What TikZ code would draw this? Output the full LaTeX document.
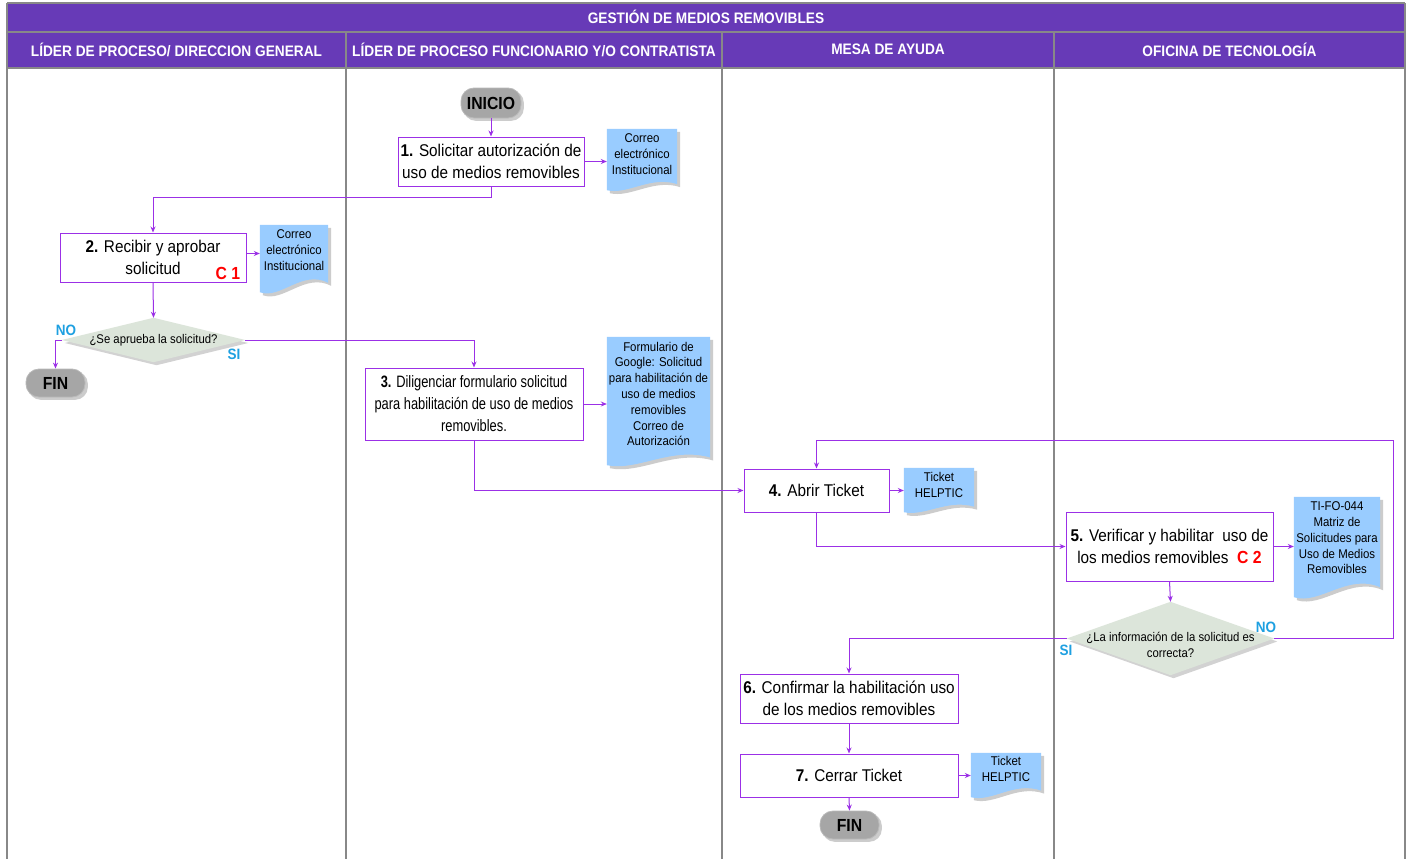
\documentclass[tikz,border=0pt]{standalone}
\usepackage{fontspec}
\setmainfont[FakeStretch=0.9]{Liberation Sans}
\newfontfamily\narrowfont[FakeStretch=0.78]{Liberation Sans}
\usetikzlibrary{calc,arrows.meta}
\definecolor{hdr}{RGB}{103,58,183}
\definecolor{lin}{RGB}{155,48,230}
\definecolor{docb}{RGB}{153,204,255}
\definecolor{dia}{RGB}{220,229,218}
\definecolor{lbl}{RGB}{30,160,225}
\definecolor{pill}{RGB}{166,166,166}
\definecolor{lane}{RGB}{136,136,136}
\pgfdeclarelayer{bg}
\pgfdeclarelayer{docs}
\pgfsetlayers{bg,docs,main}
\newcommand\fs[2]{\fontsize{#1}{#2}\selectfont}
\newcommand\docbg[2]{%
\fill[gray!40] ([shift={(3,3)}]#1.north west) -- ([shift={(3,3)}]#1.north east) -- ([shift={(3,3+0.45*#2)}]#1.south east) .. controls ($(#1.south west)!0.62!(#1.south east)+(3,3-0.35*#2)$) and ($(#1.south west)!0.3!(#1.south east)+(3,3+1.45*#2)$) .. ([shift={(3,3+#2)}]#1.south west) -- cycle;
\fill[docb] (#1.north west) -- (#1.north east) -- ([shift={(0,0.45*#2)}]#1.south east) .. controls ($(#1.south west)!0.62!(#1.south east)+(0,-0.35*#2)$) and ($(#1.south west)!0.3!(#1.south east)+(0,1.45*#2)$) .. ([shift={(0,#2)}]#1.south west) -- cycle;}
\newcommand\diabg[1]{%
\fill[gray!35] ([shift={(3,3)}]#1.north) -- ([shift={(3,3)}]#1.east) -- ([shift={(3,3)}]#1.south) -- ([shift={(3,3)}]#1.west) -- cycle;
\fill[dia] (#1.north) -- (#1.east) -- (#1.south) -- (#1.west) -- cycle;}
\newcommand\pillbg[1]{%
\fill[gray!40, rounded corners=13pt] ([shift={(2.5,2.5)}]#1.north west) rectangle ([shift={(2.5,2.5)}]#1.south east);}
\begin{document}
\begin{tikzpicture}[x=1pt,y=-1pt,
  box/.style={draw=lin, line width=1pt, fill=white, align=center, font=\fs{17}{22}, inner sep=1pt},
  docnode/.style={inner sep=0pt, align=center, font=\fs{12.7}{15.8}},
  dtext/.style={inner sep=0pt, align=center, font=\fs{12.6}{16}},
  pillnode/.style={fill=pill, draw=gray!55, line width=0.8pt, rounded corners=13pt, font=\bfseries\fs{17.5}{20}, inner sep=0pt},
  conn/.style={draw=lin, line width=1pt, -{Stealth[length=6pt,width=5pt]}},
  yn/.style={text=lbl, font=\bfseries\fs{15}{16}, inner sep=0pt},
  hdrtext/.style={text=white, font=\bfseries\fs{15.2}{16}, inner sep=0pt}]
\useasboundingbox (0,0) rectangle (1410,859);
% header and lanes
\begin{pgfonlayer}{bg}
\fill[white] (0,0) rectangle (1410,859);
\fill[hdr] (7,3) rectangle (1405,68);
\draw[lane, line width=1.3pt] (7,3) -- (1405,3);
\draw[lane, line width=1.3pt] (7,32) -- (1405,32);
\draw[lane, line width=1.3pt] (7,68) -- (1405,68);
\draw[lane, line width=1.3pt] (7,3) -- (7,859);
\draw[lane, line width=1.3pt] (1405,3) -- (1405,859);
\draw[lane, line width=1.3pt] (346,32) -- (346,859);
\draw[lane, line width=1.3pt] (722,32) -- (722,859);
\draw[lane, line width=1.3pt] (1054,32) -- (1054,859);
\end{pgfonlayer}
\node[hdrtext] (title) at (706,17) {GESTIÓN DE MEDIOS REMOVIBLES};
\node[hdrtext] (h1) at (176.5,49.5) {LÍDER DE PROCESO/ DIRECCION GENERAL};
\node[hdrtext] (h2) at (534,49.5) {LÍDER DE PROCESO FUNCIONARIO Y/O CONTRATISTA};
\node[hdrtext] (h3) at (888,49.5) {MESA DE AYUDA};
\node[hdrtext] (h4) at (1229.5,49.5) {OFICINA DE TECNOLOGÍA};
% terminals
\node[pillnode, minimum width=60pt, minimum height=30pt] (inicio) at (491,103) {INICIO};
\node[pillnode, minimum width=59pt, minimum height=28pt] (fin1) at (55.5,383) {FIN};
\node[pillnode, minimum width=59pt, minimum height=28pt] (fin2) at (849.5,825) {FIN};
% boxes
\node[box, minimum width=186pt, minimum height=49pt] (box1) at (491,161.5) {\textbf{1.} Solicitar autorización de\\uso de medios removibles};
\node[box, minimum width=186pt, minimum height=49pt] (box2) at (153,257.5) {\textbf{2.} Recibir y aprobar\\solicitud};
\node[text=red, font=\bfseries\fs{17.5}{20}, inner sep=0pt] (c1) at (228,273) {C 1};
\node[box, minimum width=218pt, minimum height=72pt, font=\narrowfont\fs{16.5}{22}] (box3) at (474,404) {\textbf{3.} Diligenciar formulario solicitud\\para habilitación de uso de medios\\removibles.};
\node[box, minimum width=145pt, minimum height=43pt] (box4) at (816.5,490.5) {\textbf{4.} Abrir Ticket};
\node[box, minimum width=207pt, minimum height=69pt] (box5) at (1169.5,546.5) {\textbf{5.} Verificar y habilitar\ \ uso de\\los medios removibles\ \ \textcolor{red}{\textbf{\fs{17.5}{22}C 2}}};
\node[box, minimum width=218pt, minimum height=49pt] (box6) at (849,698.5) {\textbf{6.} Confirmar la habilitación uso\\de los medios removibles};
\node[box, minimum width=218pt, minimum height=43pt] (box7) at (849,775.5) {\textbf{7.} Cerrar Ticket};
% decisions
\node[dtext, minimum width=183pt, minimum height=44pt] (d1) at (153.5,340) {¿Se aprueba la solicitud?};
\node[dtext, minimum width=207pt, minimum height=73pt] (d2) at (1170.5,638.5) {};
\node[dtext] (d2text) at (1170.5,645) {¿La información de la solicitud es\\correcta?};
% documents
\node[docnode, minimum width=70pt, minimum height=50pt] (doc1) at (642,154) {Correo\\electrónico\\Institucional};
\node[docnode, minimum width=68pt, minimum height=50pt] (doc2) at (294,250) {Correo\\electrónico\\Institucional};
\node[docnode, minimum width=103pt, minimum height=114pt] (doc3) at (658.5,394) {Formulario de\\Google: Solicitud\\para habilitación de\\uso de medios\\removibles\\Correo de\\Autorización};
\node[docnode, minimum width=70pt, minimum height=34pt] (doc4) at (939,485) {Ticket\\HELPTIC};
\node[docnode, minimum width=86pt, minimum height=82pt] (doc5) at (1337,538) {TI-FO-044\\Matriz de\\Solicitudes para\\Uso de Medios\\Removibles};
\node[docnode, minimum width=70pt, minimum height=32pt] (doc7) at (1006,769) {Ticket\\HELPTIC};
\begin{pgfonlayer}{docs}
\docbg{doc1}{11}
\docbg{doc2}{17}
\docbg{doc3}{14}
\docbg{doc4}{10}
\docbg{doc5}{18}
\docbg{doc7}{12}
\diabg{d1}
\diabg{d2}
\pillbg{inicio}
\pillbg{fin1}
\pillbg{fin2}
\end{pgfonlayer}
% labels
\node[yn] (no1) at (66,330) {NO};
\node[yn] (si1) at (234,354) {SI};
\node[yn] (no2) at (1266,627) {NO};
\node[yn] (si2) at (1066,650) {SI};
\coordinate (loopR) at (1393,440);
% connectors
\draw[conn] (inicio.south) -- (box1.north);
\draw[conn] (box1.east) -- (box1.east -| doc1.west);
\draw[conn] (box1.south) -- ++(0,11) -| (box2.north);
\draw[conn] ([yshift=4pt]box2.east) -- ([yshift=4pt]box2.east -| doc2.west);
\draw[conn] (box2.south) -- (d1.north);
\draw[conn] (d1.west) -| (fin1.north);
\draw[conn] (d1.east) -| (box3.north);
\draw[conn] (box3.east) -- (box3.east -| doc3.west);
\draw[conn] (box3.south) |- (box4.west);
\draw[conn] (box4.east) -- (box4.east -| doc4.west);
\draw[conn] (box4.south) |- (box5.west);
\draw[conn] (box5.east) -- (box5.east -| doc5.west);
\draw[conn] (box5.south) -- (d2.north);
\draw[conn] (d2.east) -| (loopR) -| (box4.north);
\draw[conn] (d2.west) -| (box6.north);
\draw[conn] (box6.south) -- (box7.north);
\draw[conn] (box7.east) -- (box7.east -| doc7.west);
\draw[conn] (box7.south) -- (fin2.north);
\end{tikzpicture}
\end{document}
